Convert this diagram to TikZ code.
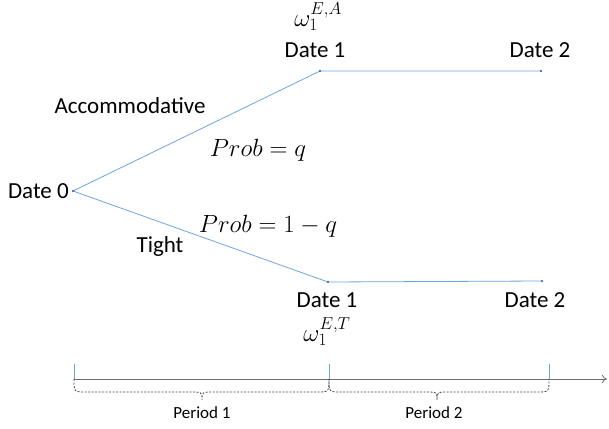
\documentclass[tikz,border=0pt]{standalone}
\usepackage{fontspec}
\setmainfont{Carlito}
\usetikzlibrary{arrows.meta}
\begin{document}
\begin{tikzpicture}[x=1pt,y=-1pt,
  lbl/.style={font=\fontsize{23}{26}\selectfont, inner sep=0pt},
  mlbl/.style={font=\fontsize{27}{30}\selectfont, inner sep=0pt},
  wlbl/.style={font=\fontsize{25}{28}\selectfont, inner sep=0pt},
  plbl/.style={font=\fontsize{17}{20}\selectfont, inner sep=0pt},
  branch/.style={draw={rgb,255:red,110;green,165;blue,220}, line width=0.8pt},
  dot/.style={fill={rgb,255:red,50;green,90;blue,150}, draw=none},
  tickln/.style={draw={rgb,255:red,110;green,165;blue,220}, line width=0.8pt},
  axisln/.style={draw={rgb,255:red,110;green,110;blue,110}, line width=0.8pt},
  bracel/.style={draw={rgb,255:red,70;green,70;blue,70}, dash pattern=on 2pt off 1.5pt, line width=0.8pt}]
\useasboundingbox (0,0) rectangle (609,428);
% tree points
\coordinate (d0) at (73,191);
\coordinate (a1) at (320,71);
\coordinate (a2) at (541,71);
\coordinate (t1) at (328,282);
\coordinate (t2) at (542,281);
\draw[branch] (d0) -- (a1) -- (a2);
\draw[branch] (d0) -- (t1) -- (t2);
\foreach \p in {d0,a1,a2,t1,t2} \fill[dot] (\p) circle (1.2pt);
% labels
\node[lbl, anchor=east] (ld0) at (69,191) {Date 0};
\node[lbl] (la1) at (315,50) {Date 1};
\node[wlbl] (wa) at (318,17) {$\omega_1^{E,A}$};
\node[lbl] (la2) at (540,50) {Date 2};
\node[lbl] (lacc) at (130,106) {Accommodative};
\node[mlbl] (pq) at (258,150) {$Prob=q$};
\node[mlbl] (p1q) at (268,226) {$Prob=1-q$};
\node[lbl] (ltight) at (160,246) {Tight};
\node[lbl] (lt1) at (327,300) {Date 1};
\node[wlbl] (wt) at (327,332) {$\omega_1^{E,T}$};
\node[lbl] (lt2) at (535,300) {Date 2};
% time axis
\coordinate (x0) at (74,379);
\coordinate (x1) at (329,379);
\coordinate (x2) at (549,379);
\coordinate (xend) at (607,379);
\coordinate (x0t) at (74,364);
\coordinate (x1t) at (329,364);
\coordinate (x2t) at (549,364);
\draw[axisln, -{To[length=5pt,width=8pt]}] (x0) -- (xend);
\draw[tickln] (x0) -- (x0t);
\draw[tickln] (x1) -- (x1t);
\draw[tickln] (x2) -- (x2t);
% braces
\draw[bracel] (x0) .. controls (74,392) .. (86,392) -- (190,392)
  .. controls (202,392) .. (202,400) .. controls (202,392) .. (214,392)
  -- (317,392) .. controls (329,392) .. (x1);
\draw[bracel] (x1) .. controls (329,392) .. (341,392) -- (425,392)
  .. controls (437,392) .. (437,400) .. controls (437,392) .. (449,392)
  -- (537,392) .. controls (549,392) .. (x2);
\node[plbl] (per1) at (202,413) {Period 1};
\node[plbl] (per2) at (434,413) {Period 2};
\end{tikzpicture}
\end{document}
